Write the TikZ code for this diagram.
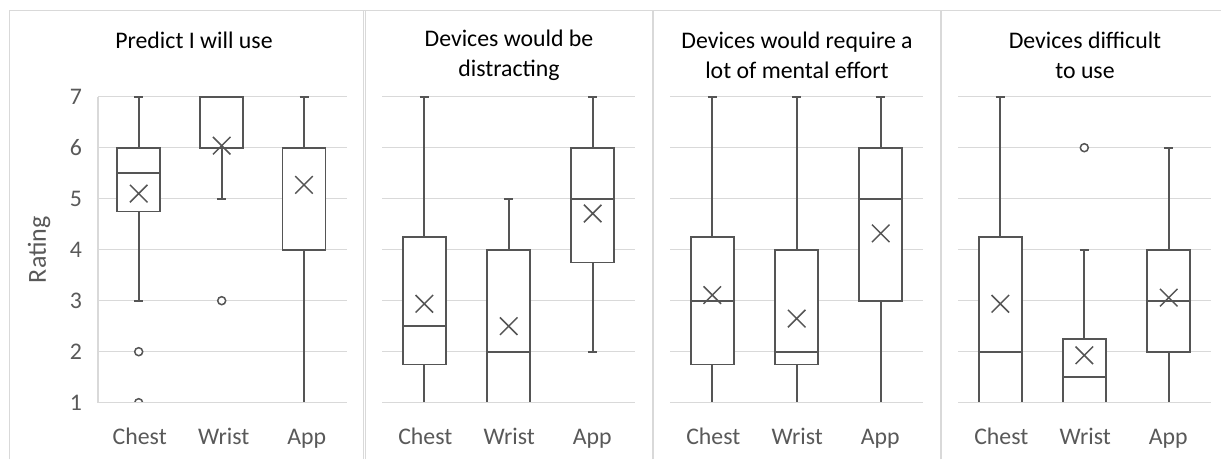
\documentclass[tikz,border=0pt]{standalone}
\usepackage{fontspec}
\setmainfont{Carlito}
\usetikzlibrary{shapes.misc}
\definecolor{gridgray}{HTML}{D9D9D9}
\definecolor{boxgray}{HTML}{555555}
\definecolor{labelgray}{HTML}{595959}
% one box: x, min, q1, median, q3, max, mean
\newcommand{\bwplot}[7]{%
\draw[whisk] (#1,#2) -- (#1,#3) (#1,#5) -- (#1,#6);
\draw[whisk] (#1-4.5,#2) -- (#1+4.5,#2) (#1-4.5,#6) -- (#1+4.5,#6);
\draw[whisk, fill=white] (#1-21.5,#3) rectangle (#1+21.5,#5);
\draw[whisk] (#1-21.5,#4) -- (#1+21.5,#4);
\node[meanmark] at (#1,#7) {};}
\begin{document}
\begin{tikzpicture}[x=1pt, y=1pt,
  frame/.style={gridgray, line width=1pt},
  grid/.style={gridgray, line width=1.4pt},
  whisk/.style={boxgray, line width=1.8pt},
  meanmark/.style={cross out, draw=boxgray, line width=1.5pt, minimum size=16pt, inner sep=0pt},
  outlier/.style={boxgray, line width=1.5pt, fill=white},
  title/.style={align=center, font=\fontsize{23.8}{30}\selectfont},
  cat/.style={labelgray, anchor=base, font=\fontsize{23.8}{28}\selectfont},
  tick/.style={labelgray, font=\fontsize{23.8}{28}\selectfont}]
\useasboundingbox (0,0) rectangle (1221,459);
\fill[white] (0,0) rectangle (1221,459);
% panel frames
\draw[frame] (9.5,0) -- (9.5,448.3) -- (1221,448.3);
\draw[frame] (363.3,0) -- (363.3,448.3);
\draw[frame] (365.3,0) -- (365.3,448.3);
\draw[frame, line width=2pt] (652.7,0) -- (652.7,448.3);
\draw[frame, line width=2pt] (940.7,0) -- (940.7,448.3);
% titles
\node[title] (t1) at (194,419) {Predict I will use};
\node[title] (t2) at (509,404) {Devices would be\\distracting};
\node[title] (t3) at (797,404) {Devices would require a\\lot of mental effort};
\node[title] (t4) at (1085,404) {Devices difficult\\to use};
\node[labelgray, rotate=90, font=\fontsize{26}{30}\selectfont] (ylab) at (39,209.3) {Rating};
% category labels
\foreach \px/\pn in {138.7/a,424.3/b,712.3/c,1000.3/d} {
  \node[cat] (chest\pn) at (\px+1,14.5) {Chest};
  \node[cat] (wrist\pn) at (\px+85,14.5) {Wrist};
  \node[cat] (app\pn) at (\px+168,14.5) {App};
}
\begin{scope}[y=51pt, yshift=5.3pt]
% grid lines and tick labels
\foreach \v in {1,...,7} {
  \draw[grid] (98,\v) -- (347,\v);
  \draw[grid] (382.3,\v) -- (635,\v);
  \draw[grid] (670,\v) -- (922.7,\v);
  \draw[grid] (958.3,\v) -- (1210.7,\v);
  \node[tick] (y\v) at (76,\v) {\v};
}
\draw[grid] (98,1) -- (98,7);
\begin{scope}
\clip (0,1.02) rectangle (1221,7.5);
% Predict I will use
\bwplot{138.7}{3}{4.75}{5.5}{6}{7}{5.1}
\bwplot{221.7}{5}{6}{7}{7}{7}{6.04}
\bwplot{304}{1}{4}{6}{6}{7}{5.27}
\draw[outlier] (138.7,2) circle[radius=4pt];
\draw[outlier] (138.7,1) circle[radius=4pt];
\draw[outlier] (221.7,3) circle[radius=4pt];
% Devices would be distracting
\bwplot{424.3}{1}{1.75}{2.5}{4.25}{7}{2.94}
\bwplot{508.7}{1}{1}{2}{4}{5}{2.5}
\bwplot{592.7}{2}{3.75}{5}{6}{7}{4.71}
% Devices would require a lot of mental effort
\bwplot{712.3}{1}{1.75}{3}{4.25}{7}{3.11}
\bwplot{796.7}{1}{1.75}{2}{4}{7}{2.65}
\bwplot{880.7}{1}{3}{5}{6}{7}{4.32}
% Devices difficult to use
\bwplot{1000.3}{1}{1}{2}{4.25}{7}{2.94}
\bwplot{1084.3}{1}{1}{1.5}{2.25}{4}{1.93}
\bwplot{1168.7}{1}{2}{3}{4}{6}{3.06}
\draw[outlier] (1084.3,6) circle[radius=4pt];
\end{scope}
\end{scope}
\end{tikzpicture}
\end{document}
